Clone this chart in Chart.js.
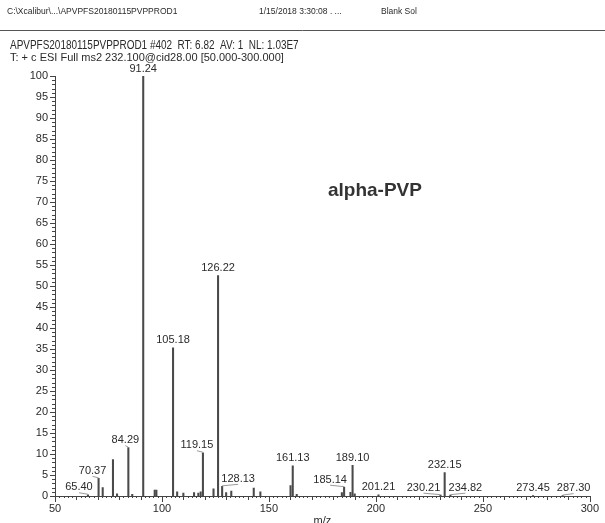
<!DOCTYPE html>
<html>
<head>
<meta charset="utf-8">
<script src="https://cdn.jsdelivr.net/npm/chart.js@4.4.1/dist/chart.umd.min.js"></script>
<style>
  html, body { margin: 0; padding: 0; background: #fff; }
  #wrap { position: relative; width: 605px; height: 523px; overflow: hidden; }
  canvas { display: block; }
</style>
</head>
<body>
<div id="wrap"><canvas id="c" width="605" height="523"></canvas></div>
<script>
// MS2 spectrum of m/z 232.1 (centroid sticks): m/z and relative abundance (%)
const mzValues = [
  65.40, 70.37, 72.30, 77.10, 79.00, 84.29, 86.10, 91.24, 96.60, 97.40,
  105.18, 107.10, 110.00, 115.00, 117.00, 118.10, 119.15, 124.10, 126.22, 128.13,
  130.00, 132.40, 142.90, 146.00, 160.10, 161.13, 163.00, 184.10, 185.14, 188.10,
  189.10, 190.10, 201.21, 230.21, 232.15, 234.82, 273.45, 287.30
];
const abundance = [
  0.3, 4.2, 2.0, 8.7, 0.5, 11.5, 0.4, 100, 1.4, 1.4,
  35.3, 1.0, 0.7, 0.8, 0.7, 1.0, 10.3, 1.7, 52.5, 2.3,
  0.8, 1.2, 1.9, 1.0, 2.5, 7.2, 0.4, 0.8, 2.1, 0.9,
  7.3, 0.5, 0.3, 0.2, 5.6, 0.2, 0.1, 0.1
];
// peaks annotated with their m/z
const labelledPeaks = [65.40, 70.37, 84.29, 91.24, 105.18, 119.15, 126.22, 128.13,
  161.13, 185.14, 189.10, 201.21, 230.21, 232.15, 234.82, 273.45, 287.30];
const xTicks = [50, 100, 150, 200, 250, 300];
const yTicks = [0, 5, 10, 15, 20, 25, 30, 35, 40, 45, 50, 55, 60, 65, 70, 75, 80, 85, 90, 95, 100];

const headerLines = {
  file: 'C:\\Xcalibur\\...\\APVPFS20180115PVPPROD1',
  date: '1/15/2018 3:30:08 . ...',
  blank: 'Blank Sol',
  scan: 'APVPFS20180115PVPPROD1 #402  RT: 6.82  AV: 1  NL: 1.03E7',
  filter: 'T: + c ESI Full ms2 232.100@cid28.00 [50.000-300.000]',
  compound: 'alpha-PVP',
  xTitle: 'm/z'
};

const FONT = '"Liberation Sans", Arial, Helvetica, sans-serif';
const INK = '#2a2a2a';

// horizontal nudge (px) of annotation text away from a crowded stick
const labelShift = { '65.40': -9, '70.37': -6, '84.29': -3, '119.15': -6, '128.13': 16,
  '185.14': -14, '230.21': -17, '234.82': 15, '287.30': 11 };

const points = mzValues.map((m, i) => ({ x: m, y: abundance[i] }));

const decorPlugin = {
  id: 'decor',
  afterDraw(chart) {
    const ctx = chart.ctx;
    const xs = chart.scales.x, ys = chart.scales.y;
    const left = chart.chartArea.left, bottom = chart.chartArea.bottom;
    ctx.save();
    ctx.strokeStyle = '#444';
    ctx.lineWidth = 1;
    // y axis tick marks: every 1 %, longer every 5 %
    for (let v = 0; v <= 100; v++) {
      const y = Math.round(ys.getPixelForValue(v)) + 0.5;
      const len = v % 5 === 0 ? 5 : 3;
      ctx.beginPath(); ctx.moveTo(left - len, y); ctx.lineTo(left, y); ctx.stroke();
    }
    // x axis tick marks: every 2, longer every 10 and 50
    for (let v = 50; v <= 300; v += 2) {
      const x = Math.round(xs.getPixelForValue(v)) + 0.5;
      const len = v % 50 === 0 ? 6 : (v % 10 === 0 ? 4 : 2);
      ctx.beginPath(); ctx.moveTo(x, bottom); ctx.lineTo(x, bottom + len); ctx.stroke();
    }
    // peak annotations
    ctx.font = '11px ' + FONT;
    ctx.textAlign = 'center';
    ctx.textBaseline = 'middle';
    labelledPeaks.forEach(m => {
      const idx = mzValues.indexOf(m);
      const px = xs.getPixelForValue(m);
      const py = ys.getPixelForValue(abundance[idx]);
      const key = m.toFixed(2);
      const dx = labelShift[key] || 0;
      const tx = px + dx, ty = py - 7.5;
      ctx.fillStyle = INK;
      ctx.fillText(key, tx, ty);
      if (dx !== 0) {
        ctx.strokeStyle = '#9a9a9a';
        ctx.beginPath();
        ctx.moveTo(tx, ty + 5.5);
        ctx.lineTo(px, py - 0.5);
        ctx.stroke();
      }
    });
    // header block
    ctx.textAlign = 'left';
    ctx.textBaseline = 'middle';
    ctx.fillStyle = INK;
    ctx.font = '8.5px ' + FONT;
    ctx.fillText(headerLines.file, 7, 12);
    ctx.fillText(headerLines.date, 259, 12);
    ctx.fillText(headerLines.blank, 381, 12);
    ctx.strokeStyle = '#555';
    ctx.beginPath(); ctx.moveTo(0, 30.5); ctx.lineTo(605, 30.5); ctx.stroke();
    // scan header: narrow setting of a 12px face
    ctx.save();
    ctx.translate(10, 46);
    ctx.scale(0.83, 1);
    ctx.font = '12px ' + FONT;
    ctx.fillText(headerLines.scan, 0, 0);
    ctx.restore();
    ctx.font = '11px ' + FONT;
    ctx.fillText(headerLines.filter, 10, 57.5);
    ctx.font = 'bold 19px ' + FONT;
    ctx.fillStyle = '#333';
    ctx.fillText(headerLines.compound, 328, 191);
    ctx.font = '11px ' + FONT;
    ctx.textAlign = 'center';
    ctx.fillStyle = INK;
    ctx.fillText(headerLines.xTitle, (chart.chartArea.left + chart.chartArea.right) / 2, 521);
    ctx.restore();
  }
};

new Chart(document.getElementById('c'), {
  type: 'bar',
  data: {
    datasets: [{
      data: points,
      backgroundColor: '#4a4a4a',
      borderWidth: 0,
      barThickness: 1.4,
      grouped: false
    }]
  },
  options: {
    responsive: false,
    animation: false,
    devicePixelRatio: 1,
    layout: { padding: { top: 76, right: 9, left: 0, bottom: 0 } },
    plugins: { legend: { display: false }, tooltip: { enabled: false } },
    scales: {
      x: {
        type: 'linear',
        min: 50, max: 300,
        offset: false,
        afterFit(scale) { scale.height = 27; },
        afterBuildTicks(scale) { scale.ticks = xTicks.map(v => ({ value: v })); },
        grid: { display: false, drawTicks: false, offset: false },
        border: { display: true, color: '#444', width: 1 },
        ticks: { font: { family: FONT, size: 11 }, color: INK, padding: 6, maxRotation: 0, autoSkip: false }
      },
      y: {
        min: 0, max: 100,
        afterFit(scale) { scale.width = 55; },
        afterBuildTicks(scale) { scale.ticks = yTicks.map(v => ({ value: v })); },
        grid: { display: false, drawTicks: false },
        border: { display: true, color: '#444', width: 1 },
        ticks: { font: { family: FONT, size: 11 }, color: INK, padding: 7, autoSkip: false }
      }
    }
  },
  plugins: [decorPlugin]
});
</script>
</body>
</html>
